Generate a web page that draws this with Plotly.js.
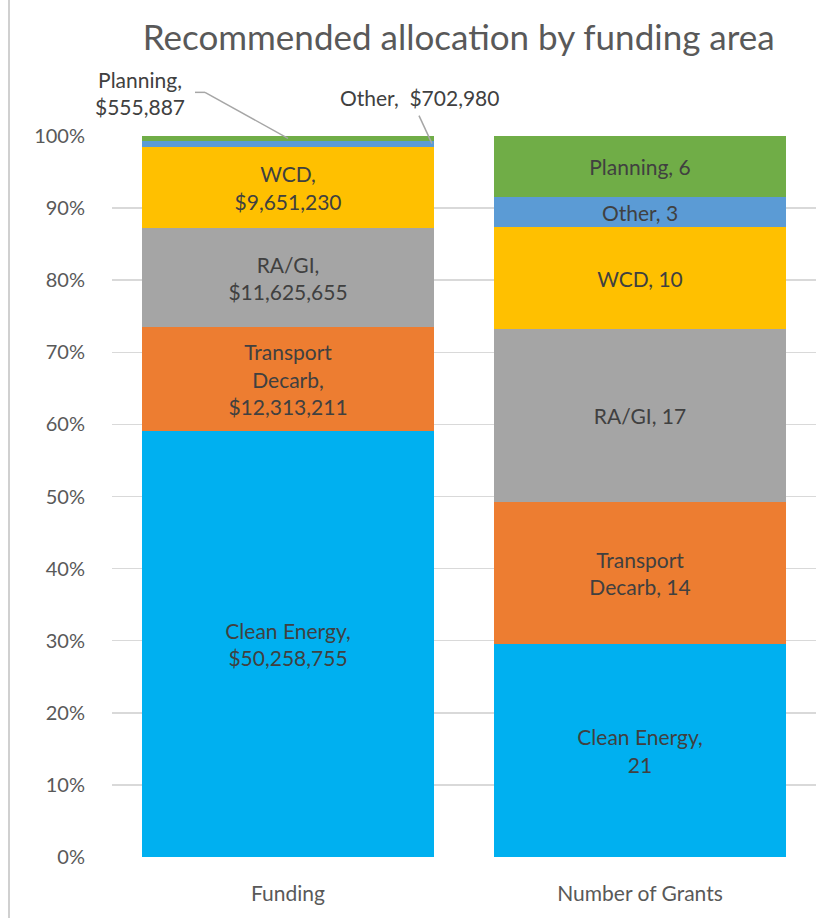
<!DOCTYPE html>
<html>
<head>
<meta charset="utf-8">
<script src="https://cdn.plot.ly/plotly-3.0.1.min.js"></script>
<style>html,body{margin:0;padding:0;background:#fff;}#chart{width:831px;height:918px;}</style>
</head>
<body>
<div id="chart"></div>
<script>
// ---- data ----
var categories = ['Funding', 'Number of Grants'];
var seriesNames = ['Clean Energy', 'Transport Decarb', 'RA/GI', 'WCD', 'Other', 'Planning'];
var fundingValues = [50258755, 12313211, 11625655, 9651230, 702980, 555887];
var grantValues = [21, 14, 17, 10, 3, 6];
var seriesColors = ['#00B0F0', '#ED7D31', '#A5A5A5', '#FFC000', '#5B9BD5', '#70AD47'];
// label prefixes as they are wrapped in the picture
var fundingPrefix = ['Clean Energy,<br>$', 'Transport<br>Decarb,<br>$', 'RA/GI,<br>$', 'WCD,<br>$', null, null];
var grantPrefix = ['Clean Energy,<br>', 'Transport<br>Decarb, ', 'RA/GI, ', 'WCD, ', 'Other, ', 'Planning, '];
var yTickVals = [0,10,20,30,40,50,60,70,80,90,100];
var yTickText = ['0%','10%','20%','30%','40%','50%','60%','70%','80%','90%','100%'];

function fmt(v){ return v.toLocaleString('en-US'); }

var FONT = 'Lato, "Open Sans", sans-serif';
var LBL = 21;
var traces = seriesNames.map(function(name, i){
  var ft = fundingPrefix[i] === null ? '' : fundingPrefix[i] + fmt(fundingValues[i]);
  var gt = grantPrefix[i] + grantValues[i];
  return {
    type: 'bar',
    name: name,
    x: categories,
    y: [fundingValues[i], grantValues[i]],
    text: [ft, gt],
    texttemplate: '%{text}',
    textposition: 'inside',
    insidetextanchor: 'middle',
    textangle: 0,
    insidetextfont: {family: FONT, size: LBL, color: '#404040'},
    marker: {color: seriesColors[i], line: {width: 0}},
    hoverinfo: 'skip'
  };
});

// positions of the small funding segments (percent)
var fundTotal = fundingValues.reduce(function(a,b){return a+b;}, 0);
var cum = 0, mids = [];
for (var i = 0; i < fundingValues.length; i++) {
  var p = fundingValues[i] / fundTotal * 100;
  mids.push(cum + p / 2);
  cum += p;
}
var otherMid = mids[4], planMid = mids[5];

// leader line: x anchored on the Funding category, y anchored (paper) at the segment middle
function leader(yPct, x0, y0, x1, y1){
  return {
    type: 'line', xref: 'x', yref: 'paper',
    xsizemode: 'pixel', ysizemode: 'pixel',
    xanchor: 0, yanchor: yPct / 100,
    x0: x0, y0: y0, x1: x1, y1: y1,
    line: {color: '#A6A6A6', width: 1.5}
  };
}

var layout = {
  width: 831, height: 918,
  paper_bgcolor: '#ffffff', plot_bgcolor: '#ffffff',
  margin: {l: 112, r: 15, t: 136, b: 61},
  barmode: 'stack', barnorm: 'percent', bargap: 0.173,
  showlegend: false,
  uniformtext: {mode: 'show', minsize: LBL},
  font: {family: FONT, color: '#595959'},
  title: {
    text: 'Recommended allocation by funding area',
    font: {family: FONT, size: 35, color: '#595959'},
    x: 0.552, xanchor: 'center', xref: 'container',
    y: 1 - 38/918, yanchor: 'middle', yref: 'container'
  },
  xaxis: {
    type: 'category', automargin: false, range: [-0.5, 1.5], autorange: false,
    tickfont: {family: FONT, size: LBL, color: '#595959'},
    ticks: 'outside', ticklen: 18, tickcolor: 'rgba(0,0,0,0)',
    showgrid: false, zeroline: false, showline: false,
    fixedrange: true
  },
  yaxis: {
    range: [0, 100], automargin: false,
    tickvals: yTickVals, ticktext: yTickText,
    tickfont: {family: FONT, size: 20, color: '#595959'},
    ticks: 'outside', ticklen: 22, tickcolor: 'rgba(0,0,0,0)',
    showgrid: true, gridcolor: '#D9D9D9', gridwidth: 1.5,
    zeroline: false, showline: false,
    fixedrange: true
  },
  annotations: [
    {
      x: 'Funding', y: planMid, xref: 'x', yref: 'y',
      text: 'Planning,<br>$' + fmt(fundingValues[5]),
      showarrow: false, xshift: -148, yshift: 45,
      font: {family: FONT, size: LBL, color: '#404040'}
    },
    {
      x: 'Funding', y: otherMid, xref: 'x', yref: 'y',
      text: 'Other,  $' + fmt(fundingValues[4]),
      showarrow: false, xshift: 131, yshift: 46,
      font: {family: FONT, size: LBL, color: '#404040'}
    }
  ],
  shapes: [
    leader(planMid, -93, 46, -83, 46),
    leader(planMid, -83, 46, 0, 0),
    leader(otherMid, 131, 28, 144, 0),
    {
      type: 'line', xref: 'paper', yref: 'paper',
      x0: (9-112)/704, x1: (9-112)/704, y0: -61/721, y1: 1 + 136/721,
      line: {color: '#D0D0D0', width: 2}
    }
  ]
};

Plotly.newPlot('chart', traces, layout, {displayModeBar: false, staticPlot: true});
</script>
</body>
</html>
